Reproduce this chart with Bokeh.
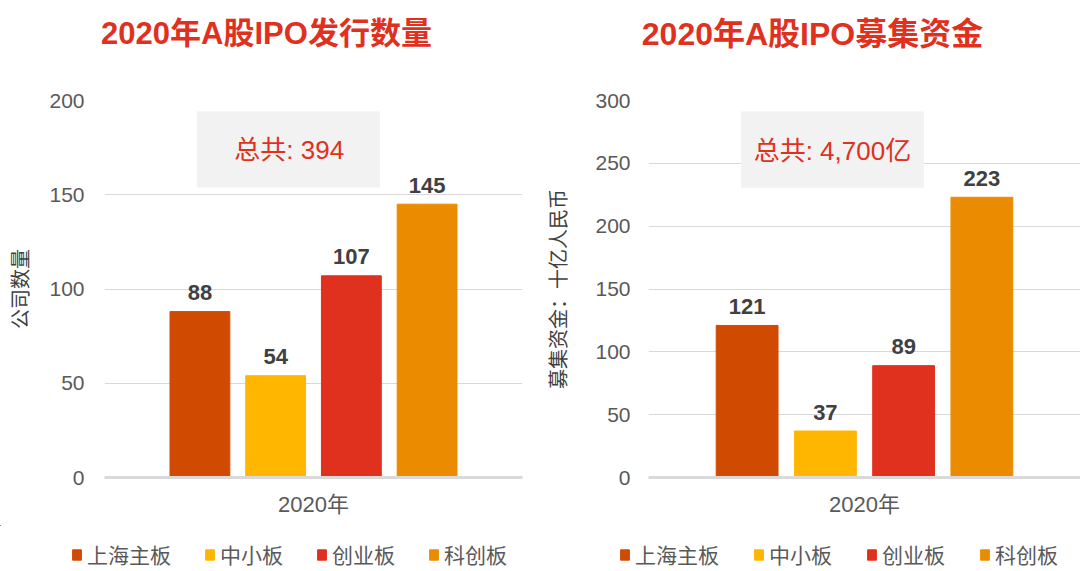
from bokeh.plotting import figure
from bokeh.layouts import row, column
from bokeh.models import (ColumnDataSource, FixedTicker, Legend, LegendItem,
                          BoxAnnotation, Range1d)
from bokeh.core.properties import value
from bokeh.embed import file_html
from bokeh.resources import INLINE

# ---- data ----
boards = ["上海主板", "中小板", "创业板", "科创板"]
colors = ["#d04a02", "#ffb600", "#e0301e", "#eb8c00"]
ipo_count = [88, 54, 107, 145]
ipo_funds = [121, 37, 89, 223]
year_label = "2020年"
titles = ["2020年A股IPO发行数量", "2020年A股IPO募集资金"]
y_titles = ["公司数量", "募集资金：十亿人民币"]
totals = ["总共: 394", "总共: 4,700亿"]
count_ticks = [0, 50, 100, 150, 200]
funds_ticks = [0, 50, 100, 150, 200, 250, 300]

LAT = "Liberation Sans, 'Noto Sans CJK SC'"
RED = "#e0301e"


def make_chart(vals, ticks, ytitle, total, box, txt, border_left,
               border_right, label_standoff, axis_label_standoff):
    p = figure(width=540, height=473, output_backend="svg", toolbar_location=None,
               x_range=Range1d(-1.26, 4.26), y_range=Range1d(ticks[0], ticks[-1]),
               min_border_left=border_left, min_border_right=border_right,
               min_border_top=48, min_border_bottom=48)
    p.outline_line_color = None
    p.background_fill_color = "white"
    p.border_fill_color = "white"

    xs = list(range(len(boards)))
    src = ColumnDataSource(dict(x=xs, top=vals, color=colors, board=boards,
                                lab=[str(v) for v in vals]))
    p.vbar(x="x", top="top", width=0.79, bottom=0, color="color", source=src)
    p.text(x="x", y="top", text="lab", source=src, text_align="center",
           text_baseline="alphabetic", y_offset=-19,
           text_font=value("Liberation Sans"), text_font_size="22px",
           text_font_style="bold", text_color="#404040")

    b = BoxAnnotation(left=box[0], right=box[1], bottom=box[2], top=box[3],
                      fill_color="#f2f2f2", fill_alpha=1.0, line_color=None, level="underlay")
    p.add_layout(b)
    p.text(x=[txt[0]], y=[txt[1]], text=[total], text_align="center",
           text_baseline="middle", text_font=value(LAT), text_font_size="26px",
           text_color=RED)

    # axes
    p.xgrid.visible = False
    p.ygrid.grid_line_color = "#d9d9d9"
    p.ygrid.grid_line_width = 1
    p.yaxis.ticker = FixedTicker(ticks=ticks)
    p.yaxis.axis_line_color = None
    p.yaxis.major_tick_line_color = None
    p.yaxis.minor_tick_line_color = None
    p.yaxis.major_label_text_font = LAT
    p.yaxis.major_label_text_font_size = "21px"
    p.yaxis.major_label_text_color = "#595959"
    p.yaxis.major_label_standoff = label_standoff
    p.yaxis.axis_label = ytitle
    p.yaxis.axis_label_text_font = "Noto Sans CJK SC"
    p.yaxis.axis_label_text_font_size = "20px"
    p.yaxis.axis_label_text_font_style = "normal"
    p.yaxis.axis_label_text_color = "#404040"
    p.yaxis.axis_label_standoff = axis_label_standoff

    p.xaxis.ticker = FixedTicker(ticks=[1.5])
    p.xaxis.major_label_overrides = {1.5: year_label}
    p.xaxis.axis_line_color = "#d9d9d9"
    p.xaxis.axis_line_width = 3
    p.xaxis.major_tick_line_color = None
    p.xaxis.minor_tick_line_color = None
    p.xaxis.major_label_text_font = LAT
    p.xaxis.major_label_text_font_size = "22px"
    p.xaxis.major_label_text_color = "#595959"
    p.xaxis.major_label_standoff = 8
    return p, src


p1, src1 = make_chart(ipo_count, count_ticks, y_titles[0], totals[0],
                      (-0.04, 2.38, 153.9, 194.2), (1.18, 173.5), 104, 18, 14, 12)
p2, src2 = make_chart(ipo_funds, funds_ticks, y_titles[1], totals[1],
                      (-0.077, 2.26, 230.6, 291.2), (1.09, 260.2), 108, 0, 12, 20)

# ---- titles strip ----
tf = figure(width=1080, height=52, output_backend="svg", toolbar_location=None,
            x_range=Range1d(0, 1080), y_range=Range1d(0, 52), min_border=0,
            x_axis_location=None, y_axis_location=None)
tf.outline_line_color = None
tf.grid.grid_line_color = None
tf.text(x=[266], y=[19], text=[titles[0]], text_align="center", text_baseline="middle",
        text_font=value(LAT), text_font_size="31px", text_font_style="bold",
        text_color=RED)
tf.text(x=[812], y=[19], text=[titles[1]], text_align="center", text_baseline="middle",
        text_font=value(LAT), text_font_size="32px", text_font_style="bold",
        text_color=RED)

# ---- legend strip (legend swatches reuse the bar data, kept out of view) ----
lf = figure(width=1080, height=46, output_backend="svg", toolbar_location=None,
            x_range=Range1d(100, 105.52), y_range=Range1d(-1000, -954), min_border=0,
            x_axis_location=None, y_axis_location=None)
lf.outline_line_color = None
lf.grid.grid_line_color = None
for src, vx, sp in [(src1, 71, 33), (src2, 619, 34)]:
    r = lf.vbar(x="x", top="top", width=0.79, bottom=0, color="color", source=src)
    items = [LegendItem(label=bd, renderers=[r], index=i) for i, bd in enumerate(boards)]
    leg = Legend(items=items, orientation="horizontal", location=(vx, 2),
                 label_text_font="Noto Sans CJK SC", label_text_font_size="21px",
                 label_text_color="#595959", glyph_width=11, glyph_height=13,
                 label_standoff=5, spacing=sp, padding=2, margin=0,
                 border_line_color=None, background_fill_alpha=0)
    lf.add_layout(leg)

layout = column(tf, row(p1, p2, spacing=0), lf, spacing=0)
open("out.html", "w").write(file_html(layout, INLINE))
